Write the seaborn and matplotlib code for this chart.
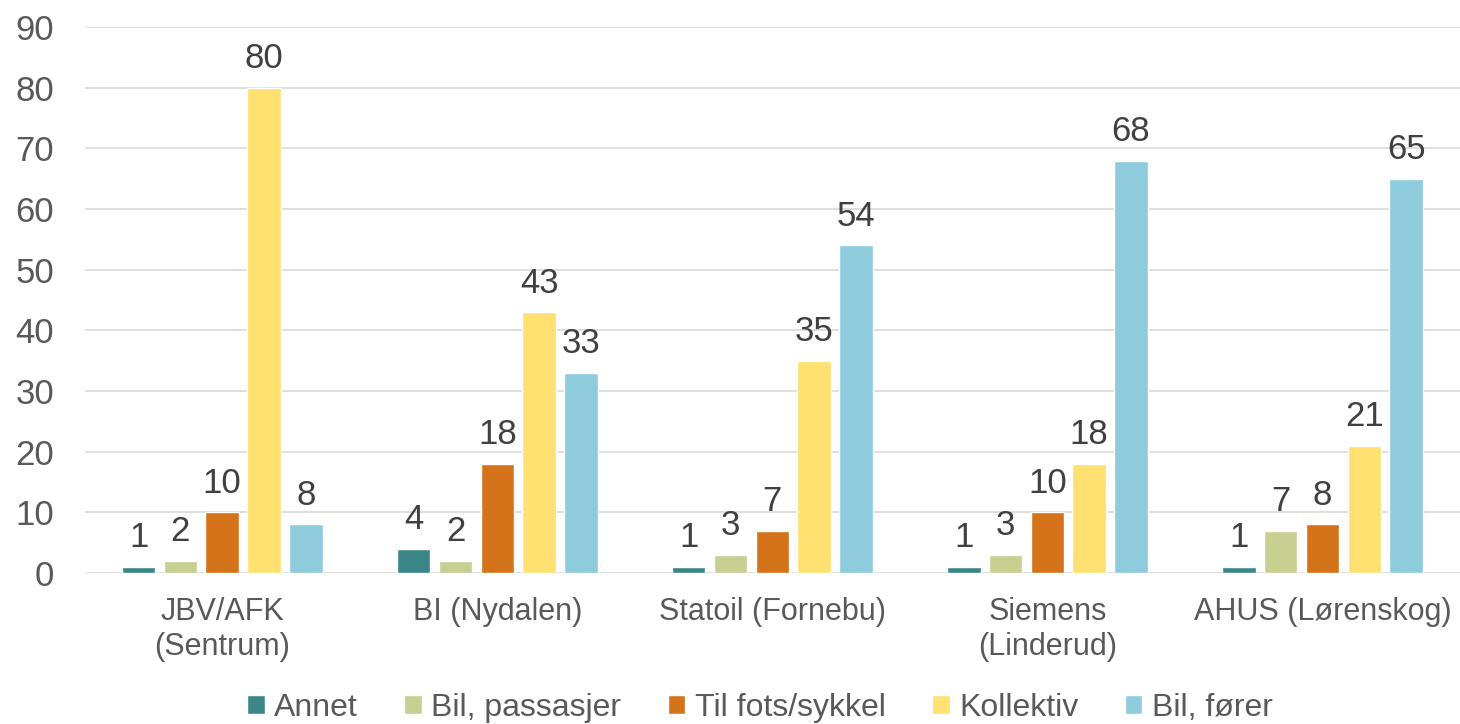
import matplotlib
matplotlib.use("Agg")
import matplotlib.pyplot as plt
import seaborn as sns
import pandas as pd

categories = ["JBV/AFK\n(Sentrum)", "BI (Nydalen)", "Statoil (Fornebu)", "Siemens\n(Linderud)", "AHUS (Lørenskog)"]
series = ["Annet", "Bil, passasjer", "Til fots/sykkel", "Kollektiv", "Bil, fører"]
annet = [1, 4, 1, 1, 1]
bil_passasjer = [2, 2, 3, 3, 7]
til_fots = [10, 18, 7, 10, 8]
kollektiv = [80, 43, 35, 18, 21]
bil_forer = [8, 33, 54, 68, 65]
colors = ["#3B8686", "#C7CF91", "#D4731A", "#FFE070", "#8ECBDD"]

values = [annet, bil_passasjer, til_fots, kollektiv, bil_forer]
rows = []
for s, vals in zip(series, values):
    for c, v in zip(categories, vals):
        rows.append({"Kategori": c, "Serie": s, "Verdi": v})
df = pd.DataFrame(rows)

sns.set_theme(style="white")
plt.rcParams['font.family'] = ['Liberation Sans', 'DejaVu Sans']

fig = plt.figure(figsize=(14.6, 7.24), dpi=100)
ax = fig.add_axes([0.058, 0.2086, 0.942, 0.754])

sns.barplot(data=df, x="Kategori", y="Verdi", hue="Serie", order=categories,
            hue_order=series, palette=colors, width=0.76, gap=0.2,
            ax=ax, saturation=1, legend=True, errorbar=None)

for cont in ax.containers:
    ax.bar_label(cont, fmt="%g", padding=9, fontsize=25, color="#404040")

ax.set_ylim(0, 90)
ax.set_yticks(range(0, 91, 10))
ax.yaxis.grid(True, color="#D9D9D9", linewidth=1.2)
ax.set_axisbelow(True)
for sp in ax.spines.values():
    sp.set_visible(False)
ax.set_xlabel("")
ax.set_ylabel("")
ax.tick_params(axis="y", labelsize=25, labelcolor="#595959", length=0, pad=22)
ax.tick_params(axis="x", labelsize=22, labelcolor="#595959", length=0, pad=17)
for lbl in ax.get_xticklabels():
    lbl.set_linespacing(1.25)

ax.legend(loc="center", bbox_to_anchor=(0.491, -0.247), ncol=5, frameon=False,
          fontsize=23, handlelength=0.55, handleheight=0.55, handletextpad=0.3,
          columnspacing=1.45, labelcolor="#595959")

fig.savefig("out.png", dpi=100)
